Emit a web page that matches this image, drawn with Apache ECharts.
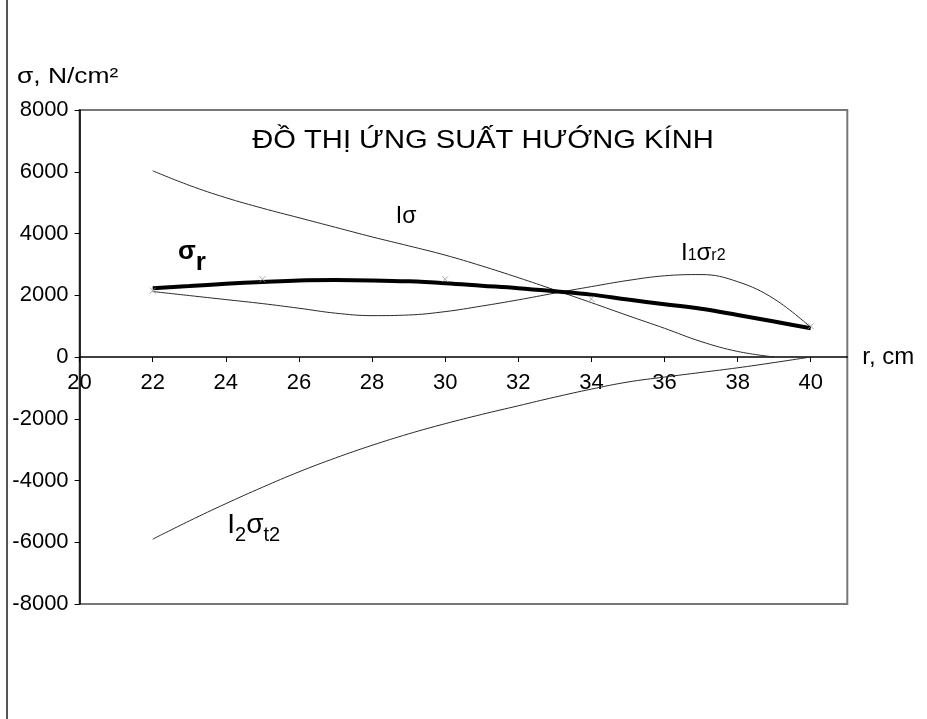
<!DOCTYPE html>
<html>
<head>
<meta charset="utf-8">
<script src="https://cdn.jsdelivr.net/npm/echarts@6/dist/echarts.min.js"></script>
<style>
  html, body { margin: 0; padding: 0; background: #fff; }
  #chart { width: 927px; height: 719px; }
</style>
</head>
<body>
<div id="chart"></div>
<script>
// Radius r, cm
const radius = [22, 23, 24, 25, 26, 27, 28, 29, 30, 31, 32, 33, 34, 35, 36, 37, 38, 39, 40];
// Radial stress sigma_r, N/cm2
const sigmaR = [2230, 2300, 2370, 2430, 2480, 2490, 2480, 2450, 2390, 2310, 2230, 2130, 2020, 1860, 1710, 1560, 1360, 1150, 930];
// I·sigma component
const iSigma = [6030, 5560, 5160, 4820, 4510, 4200, 3890, 3600, 3300, 2950, 2570, 2170, 1760, 1340, 930, 500, 180, 0, null];
// I1·sigma_r2 component
const i1SigmaR2 = [2120, 1990, 1860, 1730, 1580, 1420, 1340, 1360, 1470, 1650, 1850, 2070, 2280, 2480, 2630, 2670, 2440, 1880, 960];
// I2·sigma_t2 component
const i2SigmaT2 = [-5900, -5310, -4750, -4220, -3720, -3270, -2860, -2490, -2160, -1860, -1580, -1300, -1040, -810, -650, -500, -350, -180, 0];
// Computed nodes on the sigma_r curve
const nodeRadius = [22, 25, 30, 34, 40];
const nodeValues = [2150, 2520, 2520, 1880, 1000];

const xTicks = [20, 22, 24, 26, 28, 30, 32, 34, 36, 38, 40];
const yTicks = [-8000, -6000, -4000, -2000, 0, 2000, 4000, 6000, 8000];

const FONT = '"Liberation Sans", Arial, sans-serif';

function pairs(values) {
  const out = [];
  radius.forEach((r, i) => { if (values[i] != null) out.push([r, values[i]]); });
  return out;
}

const chart = echarts.init(document.getElementById('chart'), null, { renderer: 'canvas' });

const thin = { color: '#2a2a2a', width: 1 };
const gridTop = 110, gridBottom = 115, chartH = 719;
const plotH = chartH - gridTop - gridBottom;
// the r axis runs along sigma = 0, halfway down the symmetric value range
const zeroOffset = -plotH * (0 - yTicks[0]) / (yTicks[yTicks.length - 1] - yTicks[0]);

const option = {
  backgroundColor: '#fff',
  animation: false,
  grid: {
    left: 79.6, right: 79.7, top: gridTop, bottom: gridBottom,
    show: true, borderColor: '#777', borderWidth: 2,
    outerBoundsMode: 'none'
  },
  xAxis: {
    type: 'value', min: 20, max: 41, position: 'bottom', offset: zeroOffset,
    name: 'r, cm', nameLocation: 'end', nameGap: 15,
    nameTextStyle: { fontFamily: FONT, fontSize: 24, color: '#000' },
    axisLine: { show: true, onZero: false, lineStyle: { color: '#000', width: 1.5 } },
    axisTick: { show: true, length: 5, customValues: xTicks, lineStyle: { color: '#000' } },
    axisLabel: { customValues: xTicks, margin: 15, fontFamily: FONT, fontSize: 22, color: '#000' },
    splitLine: { show: false }
  },
  yAxis: {
    type: 'value', min: yTicks[0], max: yTicks[yTicks.length - 1], interval: 2000,
    axisLine: { show: true, onZero: false, lineStyle: { color: '#000', width: 1.5 } },
    axisTick: { show: true, length: 5, lineStyle: { color: '#000' } },
    axisLabel: { margin: 11, fontFamily: FONT, fontSize: 22, color: '#000',
      formatter: v => String(v) },
    splitLine: { show: false }
  },
  series: [
    { name: 'Iσ', type: 'line', data: pairs(iSigma), smooth: 0.4, showSymbol: false, lineStyle: thin, z: 3 },
    { name: 'I1σr2', type: 'line', data: pairs(i1SigmaR2), smooth: 0.4, showSymbol: false, lineStyle: thin, z: 3 },
    { name: 'I2σt2', type: 'line', data: pairs(i2SigmaT2), smooth: 0.4, showSymbol: false, lineStyle: thin, z: 3 },
    { name: 'σr', type: 'line', data: pairs(sigmaR), smooth: 0.4, showSymbol: false,
      lineStyle: { color: '#000', width: 4 }, z: 4 },
    { name: 'nodes', type: 'scatter', data: nodeRadius.map((r, i) => [r, nodeValues[i]]),
      symbol: 'path://M0,0L10,10M10,0L0,10', symbolSize: 6,
      itemStyle: { color: 'none', borderColor: '#999', borderWidth: 1 }, z: 5 }
  ]
};

chart.setOption(option);

// Text width helper for composing sub/superscript labels
const measureCtx = document.createElement('canvas').getContext('2d');
function textWidth(text, size, weight) {
  measureCtx.font = (weight || 'normal') + ' ' + size + 'px ' + FONT;
  return measureCtx.measureText(text).width;
}

// Curve labels placed in data space; each part is drawn as its own text run
const curveLabels = [
  { r: 28.65, v: 4550, parts: [{ t: 'I', s: 23 }, { t: 'σ', s: 23 }] },
  { r: 22.69, v: 3410, parts: [{ t: 'σ', s: 26, w: 'bold' }, { t: 'r', s: 26, w: 'bold', dy: 11 }] },
  { r: 36.45, v: 3370, parts: [{ t: 'I', s: 24 }, { t: '1', s: 16, dy: 3 }, { t: 'σ', s: 24 }, { t: 'r2', s: 16, dy: 3 }] },
  { r: 24.04, v: -5440, parts: [{ t: 'I', s: 28 }, { t: '2', s: 20, dy: 11 }, { t: 'σ', s: 28 }, { t: 't2', s: 20, dy: 11 }] }
];

const elements = [];
curveLabels.forEach(lbl => {
  const p = chart.convertToPixel({ gridIndex: 0 }, [lbl.r, lbl.v]);
  let x = p[0];
  lbl.parts.forEach(part => {
    elements.push({
      type: 'text', x: x, y: p[1] + (part.dy || 0), z: 10,
      style: {
        text: part.t, fill: '#000', fontFamily: FONT, fontSize: part.s,
        fontWeight: part.w || 'normal', align: 'left', verticalAlign: 'middle',
        textAlign: 'left', textVerticalAlign: 'middle'
      }
    });
    x += textWidth(part.t, part.s, part.w);
  });
});

// Chart title
elements.push({
  type: 'text', x: 483, y: 141, scaleX: 1.12, z: 10,
  style: {
    text: 'ĐỒ THỊ ỨNG SUẤT HƯỚNG KÍNH', fill: '#000', fontFamily: FONT, fontSize: 26,
    align: 'center', verticalAlign: 'middle', textAlign: 'center', textVerticalAlign: 'middle'
  }
});
// Vertical axis title
elements.push({
  type: 'text', x: 17, y: 77, scaleX: 1.2, z: 10,
  style: {
    text: 'σ, N/cm²', fill: '#000', fontFamily: FONT, fontSize: 22,
    align: 'left', verticalAlign: 'middle', textAlign: 'left', textVerticalAlign: 'middle'
  }
});
// Outer frame edge
elements.push({
  type: 'line', z: 10,
  shape: { x1: 7, y1: 0, x2: 7, y2: 719 },
  style: { stroke: '#555', lineWidth: 2 }
});

chart.setOption({ graphic: { elements: elements } });
</script>
</body>
</html>
